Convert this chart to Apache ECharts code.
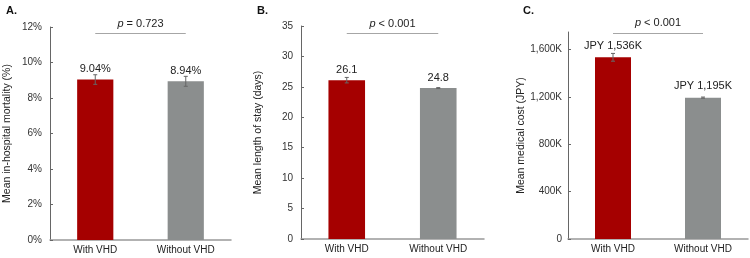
<!DOCTYPE html>
<html>
<head>
<meta charset="utf-8">
<script src="https://cdn.jsdelivr.net/npm/echarts@6/dist/echarts.min.js"></script>
<style>
  html, body { margin: 0; padding: 0; background: #fff; }
  #vhdChart { width: 750px; height: 258px; }
</style>
</head>
<body>
<div id="vhdChart"></div>
<script>
// values
var categories = ['With VHD', 'Without VHD']
var mortality = [9.04, 8.94]
var mortalityErr = [0.27, 0.28]
var stay = [26.1, 24.8]
var stayErr = [0.45, 0.08]
var cost = [1536, 1195] // thousand JPY
var costErr = [33, 5]
var pTexts = ['= 0.723', '< 0.001', '< 0.001']
var pLineY = [11.66, 33.8, 1743]
var panelTitles = ['A.', 'B.', 'C.']
var yNames = ['Mean in-hospital mortality (%)', 'Mean length of stay (days)', 'Mean medical cost (JPY)']

var RED = '#a50000'
var GRAY = '#8b8e8e'
var FONT = '"Liberation Sans", Arial, sans-serif'

function fmtThousands(v) {
  return String(v).replace(/\B(?=(\d{3})+(?!\d))/g, ',')
}

function errData(vals, errs) {
  return vals.map(function (v, i) { return [i, v, errs[i]] })
}

function renderErr(params, api) {
  var x = api.value(0)
  var y = api.value(1)
  var e = api.value(2)
  var top = api.coord([x, y + e])
  var bot = api.coord([x, y - e])
  var cap = 2
  var style = { stroke: '#666', lineWidth: 1 }
  return {
    type: 'group',
    children: [
      { type: 'line', shape: { x1: top[0], y1: top[1], x2: bot[0], y2: bot[1] }, style: style },
      { type: 'line', shape: { x1: top[0] - cap, y1: top[1], x2: top[0] + cap, y2: top[1] }, style: style },
      { type: 'line', shape: { x1: bot[0] - cap, y1: bot[1], x2: bot[0] + cap, y2: bot[1] }, style: style },
    ],
  }
}

function barData(vals) {
  return vals.map(function (v, i) {
    return { value: v, itemStyle: { color: i === 0 ? RED : GRAY } }
  })
}

function pMarkLine(idx) {
  return {
    symbol: 'none',
    silent: true,
    lineStyle: { color: '#a6a6a6', type: 'solid', width: 1 },
    label: {
      position: 'insideMiddleTop',
      distance: 4,
      formatter: '{i|p} ' + pTexts[idx],
      color: '#222',
      fontSize: 11,
      fontFamily: FONT,
      rich: { i: { fontStyle: 'italic', fontSize: 11, fontFamily: FONT, color: '#222' } },
    },
    data: [[{ coord: [0, pLineY[idx]] }, { coord: [1, pLineY[idx]] }]],
  }
}

var labelFormatters = [
  function (p) { return p.value.toFixed(2) + '%' },
  function (p) { return p.value.toFixed(1) },
  function (p) { return 'JPY ' + fmtThousands(p.value) + 'K' },
]

var grids = [
  { left: 50, top: 27, width: 181, height: 213 },
  { left: 301, top: 26, width: 183, height: 213 },
  { left: 568, top: 32, width: 180, height: 207 },
]

var yAxes = [
  { min: 0, max: 12, interval: 2, fmt: function (v) { return v + '%' }, gap: 37, margin: 8 },
  { min: 0, max: 35, interval: 5, fmt: function (v) { return v }, gap: 37, margin: 8 },
  { min: 0, max: 1750, interval: 400, fmt: function (v) { return fmtThousands(v) + (v === 0 ? '' : 'K') }, gap: 39, margin: 6 },
]

var option = {
  animation: false,
  backgroundColor: '#fff',
  title: panelTitles.map(function (t, i) {
    return {
      text: t,
      left: [1, 252, 518][i],
      top: 0,
      textStyle: { fontSize: 11, fontWeight: 'bold', fontFamily: FONT, color: '#111' },
    }
  }),
  grid: grids,
  xAxis: grids.map(function (g, i) {
    return {
      type: 'category',
      gridIndex: i,
      data: categories,
      axisLine: { lineStyle: { color: '#999', width: 1.5 } },
      axisTick: { show: false },
      axisLabel: { color: '#222', fontSize: 10, fontFamily: FONT, margin: 5 },
    }
  }),
  yAxis: yAxes.map(function (a, i) {
    return {
      type: 'value',
      gridIndex: i,
      min: a.min,
      max: a.max,
      interval: a.interval,
      name: yNames[i],
      nameLocation: 'middle',
      nameGap: a.gap,
      nameTextStyle: { color: '#222', fontSize: 10.5, fontFamily: FONT },
      axisLine: { show: true, lineStyle: { color: '#666', width: 1 } },
      axisTick: { show: true, inside: true, length: 3, lineStyle: { color: '#666' } },
      splitLine: { show: false },
      axisLabel: {
        color: '#333',
        fontSize: 10,
        fontFamily: FONT,
        margin: a.margin,
        showMaxLabel: i !== 2,
        formatter: a.fmt,
      },
    }
  }),
  series: [],
}

var seriesVals = [mortality, stay, cost]
var seriesErrs = [mortalityErr, stayErr, costErr]
seriesVals.forEach(function (vals, i) {
  option.series.push({
    type: 'bar',
    xAxisIndex: i,
    yAxisIndex: i,
    barWidth: '40%',
    data: barData(vals),
    label: {
      show: true,
      position: 'top',
      distance: i === 2 ? 6 : 5,
      color: '#222',
      fontSize: 11,
      fontFamily: FONT,
      formatter: labelFormatters[i],
    },
    markLine: pMarkLine(i),
  })
  option.series.push({
    type: 'custom',
    xAxisIndex: i,
    yAxisIndex: i,
    renderItem: renderErr,
    encode: { x: 0, y: 1 },
    data: errData(vals, seriesErrs[i]),
    z: 5,
    silent: true,
  })
})

var chartDom = echarts.init(document.getElementById('vhdChart'))
chartDom.setOption(option)
window.addEventListener('resize', function () {
  chartDom.resize()
})
</script>
</body>
</html>
